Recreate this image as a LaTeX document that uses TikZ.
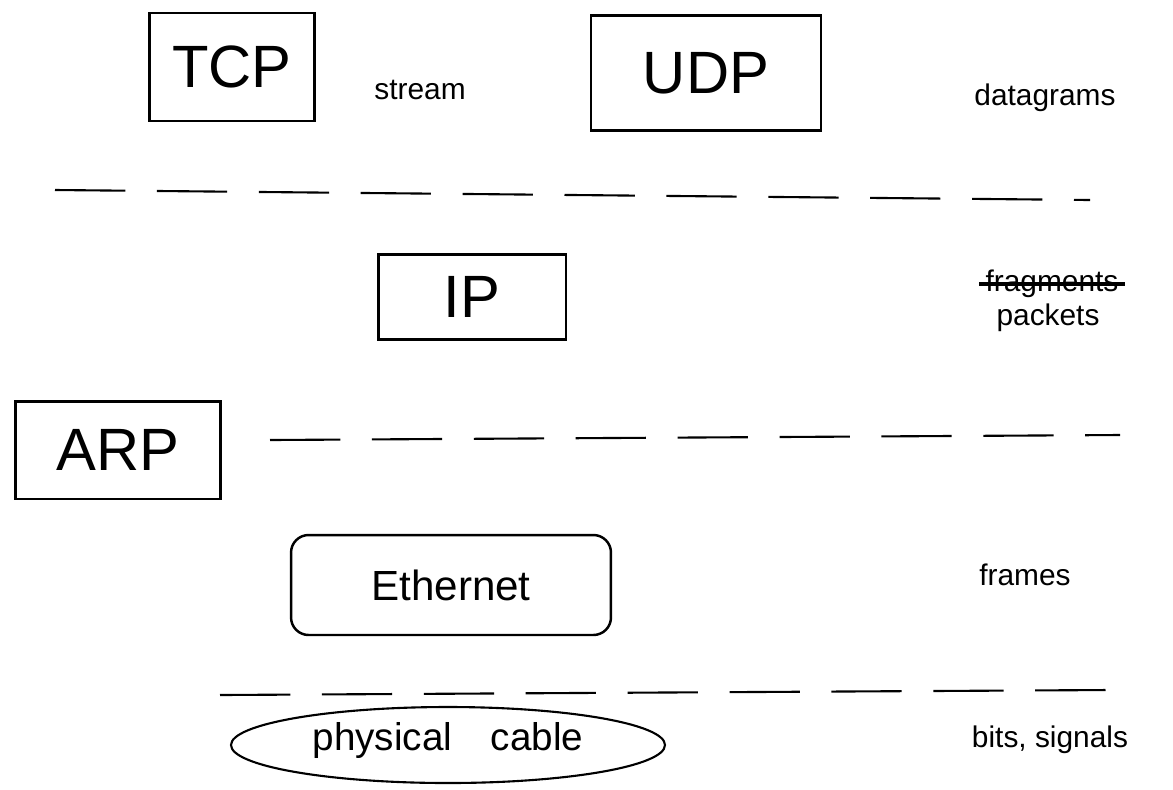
\documentclass[tikz,border=0pt]{standalone}
\usepackage{fontspec}
\setmainfont{Liberation Sans}
\begin{document}
\begin{tikzpicture}[x=0.02cm, y=-0.02cm]
    % Define styles
    \tikzset{
        layerbox/.style={draw, line width=1.4pt, minimum height=2cm, inner sep=0pt, font=\fontsize{34}{40}\selectfont},
        layername/.style={font=\fontsize{17}{20}\selectfont},
        layerline/.style={line width=1.2pt, dash pattern=on 40pt off 18pt}
    }

    % Fix picture size
    \useasboundingbox (0,0) rectangle (1173,789);

    % Draw transport layer
    \node[layerbox, minimum width=3.3cm, minimum height=2.15cm] (tcp) at (232,67) {TCP};
    \node[layerbox, minimum width=4.6cm, minimum height=2.3cm] (udp) at (706,73) {UDP};
    \node[layername] (stream) at (420,90) {stream};
    \node[layername] (datagrams) at (1045,98) {datagrams};

    % Draw first separator
    \coordinate (sepAl) at (55,190);
    \coordinate (sepAr) at (1090,200);
    \draw[layerline] (sepAl) -- (sepAr);

    % Draw network layer
    \node[layerbox, minimum width=3.75cm, minimum height=1.7cm] (ip) at (472,297) {IP};
    \node[layername] (fragments) at (1052,284) {fragments};
    \draw[line width=2pt] (fragments.west) -- (fragments.east);
    \node[layername] (packets) at (1048,318) {packets};
    \node[layerbox, minimum width=4.1cm, minimum height=1.95cm] (arp) at (118,450) {ARP};

    % Draw second separator
    \coordinate (sepBl) at (270,440);
    \coordinate (sepBr) at (1120,435);
    \draw[layerline] (sepBl) -- (sepBr);

    % Draw link layer
    \node[layerbox, rounded corners=10pt, minimum width=6.4cm, minimum height=2cm, font=\fontsize{24}{28}\selectfont] (ethernet) at (451,585) {Ethernet};
    \node[layername] (frames) at (1025,575) {frames};

    % Draw third separator
    \coordinate (sepCl) at (220,695);
    \coordinate (sepCr) at (1110,690);
    \draw[layerline] (sepCl) -- (sepCr);

    % Draw physical layer
    \draw[line width=1.2pt] (448,745) ellipse (217 and 38);
    \node[font=\fontsize{22}{26}\selectfont] (cable) at (448,740) {physical\quad cable};
    \node[layername] (bits) at (1050,740) {bits, signals};

\end{tikzpicture}
\end{document}
